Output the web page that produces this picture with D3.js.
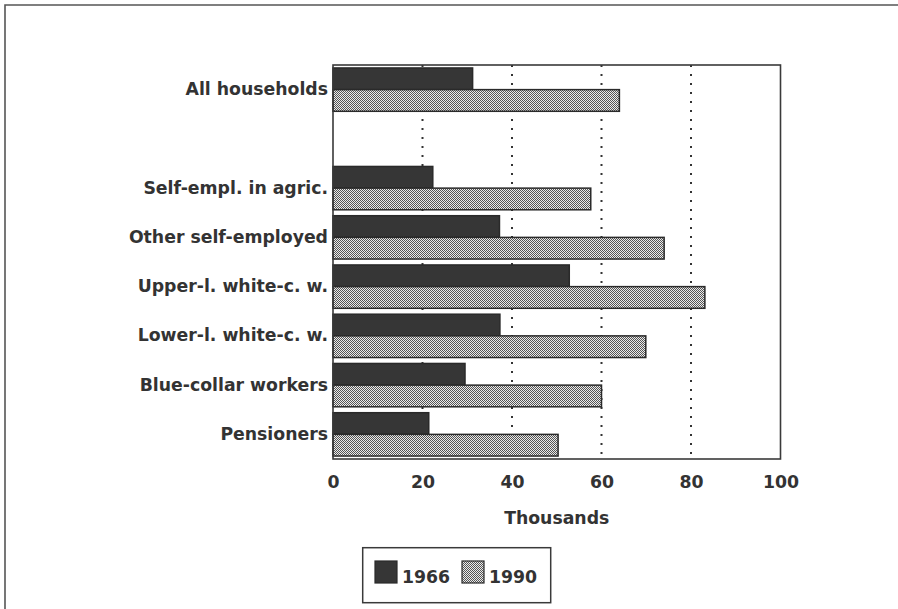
<!DOCTYPE html>
<html>
<head>
<meta charset="utf-8">
<script src="https://cdn.jsdelivr.net/npm/d3@7"></script>
<style>
  html, body { margin: 0; padding: 0; background: #fff; }
  svg text { font-family: "DejaVu Sans", sans-serif; font-weight: bold; fill: #333; }
</style>
</head>
<body>
<svg id="chart" width="898" height="609"></svg>
<script>
// ---- data ----
const categories = ["All households", "Self-empl. in agric.", "Other self-employed",
  "Upper-l. white-c. w.", "Lower-l. white-c. w.", "Blue-collar workers", "Pensioners"];
const seriesNames = ["1966", "1990"];
const values1966 = [31.2, 22.3, 37.2, 52.8, 37.3, 29.5, 21.4];
const values1990 = [64.0, 57.6, 74.0, 83.1, 69.9, 60.0, 50.3];
const xTicks = [0, 20, 40, 60, 80, 100];
const gridTicks = [20, 40, 60, 80];
const xTitle = "Thousands";

(function () {
// row slots: a blank slot separates the total from the groups
const GAP = "\u00a0";
const rowSlots = [categories[0], GAP, ...categories.slice(1)];

const svg = d3.select("#chart");
const pLeft = 333, pRight = 780.5, pTop = 65, pBottom = 459;

const x = d3.scaleLinear().domain([0, 100]).range([pLeft, pRight]);
const y = d3.scaleBand().domain(rowSlots).range([pTop, pBottom]).paddingInner(0.12).paddingOuter(0.06);
const ySub = d3.scaleBand().domain(seriesNames).range([0, y.bandwidth()]);

// pattern for 1990
const defs = svg.append("defs");
const pat = defs.append("pattern").attr("id", "dots").attr("patternUnits", "userSpaceOnUse")
  .attr("width", 2).attr("height", 2);
pat.append("rect").attr("width", 2).attr("height", 2).attr("fill", "#ebebeb");
pat.append("rect").attr("width", 1).attr("height", 1).attr("fill", "#555");
pat.append("rect").attr("x", 1).attr("y", 1).attr("width", 1).attr("height", 1).attr("fill", "#555");

const fills = { "1966": "#363636", "1990": "url(#dots)" };

// outer frame
svg.append("path").attr("d", "M5,609 L5,5 L898,5")
  .attr("fill", "none").attr("stroke", "#555").attr("stroke-width", 1.6);

// gridlines
svg.append("g").selectAll("line").data(gridTicks).join("line")
  .attr("x1", d => x(d)).attr("x2", d => x(d))
  .attr("y1", pTop).attr("y2", pBottom)
  .attr("stroke", "#333").attr("stroke-width", 2)
  .attr("stroke-dasharray", "2 7");

// bars
const rows = categories.map((c, i) => ({ c, v: { "1966": values1966[i], "1990": values1990[i] } }));
const g = svg.append("g");
rows.forEach(r => {
  seriesNames.forEach(s => {
    g.append("rect")
      .attr("x", x(0))
      .attr("y", y(r.c) + ySub(s))
      .attr("width", x(r.v[s]) - x(0))
      .attr("height", ySub.bandwidth())
      .attr("fill", fills[s])
      .attr("stroke", "#2a2a2a").attr("stroke-width", 1.5);
  });
});

// plot frame
svg.append("rect").attr("x", pLeft).attr("y", pTop)
  .attr("width", pRight - pLeft).attr("height", pBottom - pTop)
  .attr("fill", "none").attr("stroke", "#3a3a3a").attr("stroke-width", 1.6);

// y labels
const yAxis = d3.axisLeft(y).tickSize(0).tickPadding(5);
const ya = svg.append("g").attr("transform", `translate(${pLeft},0)`).call(yAxis);
ya.select(".domain").remove();
ya.selectAll("text").style("font-size", "17.3px").attr("fill", "#333");

// x axis labels
const xAxis = d3.axisBottom(x).tickValues(xTicks).tickSize(0).tickPadding(17).tickFormat(d3.format("d"));
const xa = svg.append("g").attr("transform", `translate(0,${pBottom})`).call(xAxis);
xa.select(".domain").remove();
xa.selectAll("text").style("font-size", "17.3px").attr("fill", "#333");

svg.append("text").attr("x", (pLeft + pRight) / 2).attr("y", 523.5)
  .attr("text-anchor", "middle").style("font-size", "17.3px").text(xTitle);

// legend
svg.append("rect").attr("x", 362.7).attr("y", 547.7).attr("width", 188).attr("height", 55)
  .attr("fill", "#fff").attr("stroke", "#3a3a3a").attr("stroke-width", 1.5);
const lx = [375, 462];
seriesNames.forEach((s, i) => {
  svg.append("rect").attr("x", lx[i]).attr("y", 561).attr("width", 22).attr("height", 22)
    .attr("fill", fills[s]).attr("stroke", "#2a2a2a").attr("stroke-width", 1.2);
  svg.append("text").attr("x", lx[i] + 27).attr("y", 583)
    .style("font-size", "17.3px").text(s);
});
})();
</script>
</body>
</html>
